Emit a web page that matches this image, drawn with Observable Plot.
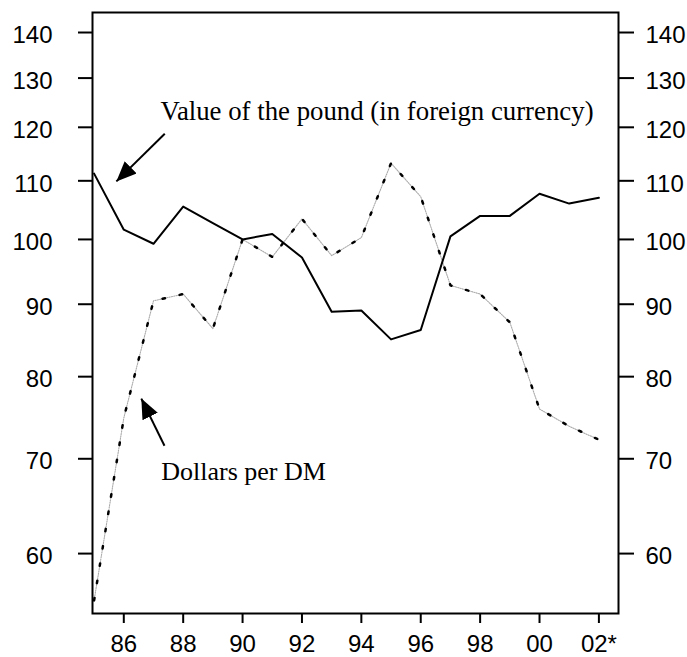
<!DOCTYPE html>
<html><head><meta charset="utf-8">
<script src="https://cdn.jsdelivr.net/npm/d3@7"></script>
<script src="https://cdn.jsdelivr.net/npm/@observablehq/plot@0.6"></script>
<style>body{margin:0;background:#fff}</style>
</head><body><div id="chart"></div>
<script>
const years = [1985,1986,1987,1988,1989,1990,1991,1992,1993,1994,1995,1996,1997,1998,1999,2000,2001,2002];
const pound = [111.3,101.6,99.3,105.5,102.7,100.0,100.9,97.1,88.9,89.1,85.0,86.3,100.5,103.9,103.9,107.7,106.0,107.0];
const dollarsPerDM = [55.6,74.8,90.5,91.5,86.5,100.0,97.2,103.4,97.4,100.3,113.2,107.2,92.8,91.5,87.4,75.9,73.8,72.2];
const yTicks = [60,70,80,90,100,110,120,130,140];
const xTickYears = [1986,1988,1990,1992,1994,1996,1998,2000,2002];
const xTickLabels = ["86","88","90","92","94","96","98","00","02*"];
const labelTexts = ["Value of the pound (in foreign currency)","Dollars per DM"];
const labelSizes = [26.8,26];
const labelX = [1987.236,1987.26];
const labelY = [121.5,67.65];
const arrowX1 = [1987.38,1987.37];
const arrowY1 = [118.75,71.5];
const arrowX2 = [1985.75,1986.59];
const arrowY2 = [109.9,77.2];

const data = years.map((y,i)=>({year:y, pound:pound[i], dm:dollarsPerDM[i]}));
const labels = labelTexts.map((t,i)=>({text:t, x:labelX[i], y:labelY[i], size:labelSizes[i]}));
const arrows = arrowX1.map((_,i)=>({x1:arrowX1[i], y1:arrowY1[i], x2:arrowX2[i], y2:arrowY2[i]}));
const xLabelMap = new Map(xTickYears.map((d,i)=>[d,xTickLabels[i]]));
const tickFont = 24;

const plot = Plot.plot({
  width: 687, height: 657,
  marginLeft: 92, marginRight: 69, marginTop: 12, marginBottom: 44,
  style: {fontFamily: "'Liberation Sans', Arial, sans-serif", fontSize: "24px", background: "white", color: "black"},
  x: {domain: [1984.946, 2002.66], label: null},
  y: {type: "log", domain: [54.43, 144.63], label: null},
  marks: [
    Plot.frame({stroke: "black", strokeWidth: 2}),
    Plot.axisY(yTicks, {anchor: "left", tickSize: 14, strokeWidth: 2, fill: "none", label: null}),
    Plot.axisY(yTicks, {anchor: "left", tickSize: 0, tickPadding: 40, dy: 3, fontSize: tickFont, tickFormat: d => String(d), label: null}),
    Plot.axisY(yTicks, {anchor: "right", tickSize: 15, strokeWidth: 2, fill: "none", label: null}),
    Plot.axisY(yTicks, {anchor: "right", tickSize: 0, tickPadding: 27, dy: 3, fontSize: tickFont, tickFormat: d => String(d), label: null}),
    Plot.axisX(xTickYears, {anchor: "bottom", tickSize: 10, tickPadding: 11, strokeWidth: 2, fontSize: tickFont, tickFormat: d => xLabelMap.get(d), label: null}),
    Plot.line(data, {x: "year", y: "dm", stroke: "#aaa", strokeWidth: 1.1, strokeDasharray: "1.2 1.2"}),
    Plot.line(data, {x: "year", y: "dm", stroke: "black", strokeWidth: 2.5, strokeDasharray: "2.5 15"}),
    Plot.line(data, {x: "year", y: "pound", stroke: "black", strokeWidth: 2}),
    Plot.link(arrows, {x1: "x1", y1: "y1", x2: "x2", y2: "y2", stroke: "black", strokeWidth: 2, markerEnd: "arrow"}),
    Plot.text(labels, {x: "x", y: "y", text: "text", textAnchor: "start", lineAnchor: "bottom", fontFamily: "'Liberation Serif', 'Times New Roman', serif", fontSize: "size", fill: "black"})
  ]
});
d3.select(plot).selectAll("marker").each(function(){
  const m = d3.select(this);
  m.attr("viewBox","-20 -8.5 20 17").attr("markerWidth",20).attr("markerHeight",17)
   .attr("markerUnits","userSpaceOnUse").attr("fill","black").attr("stroke","none");
  m.selectAll("*").remove();
  m.append("path").attr("d","M-20,-8.5L0,0L-20,8.5Z");
});
document.getElementById("chart").appendChild(plot);
</script>
</body></html>
